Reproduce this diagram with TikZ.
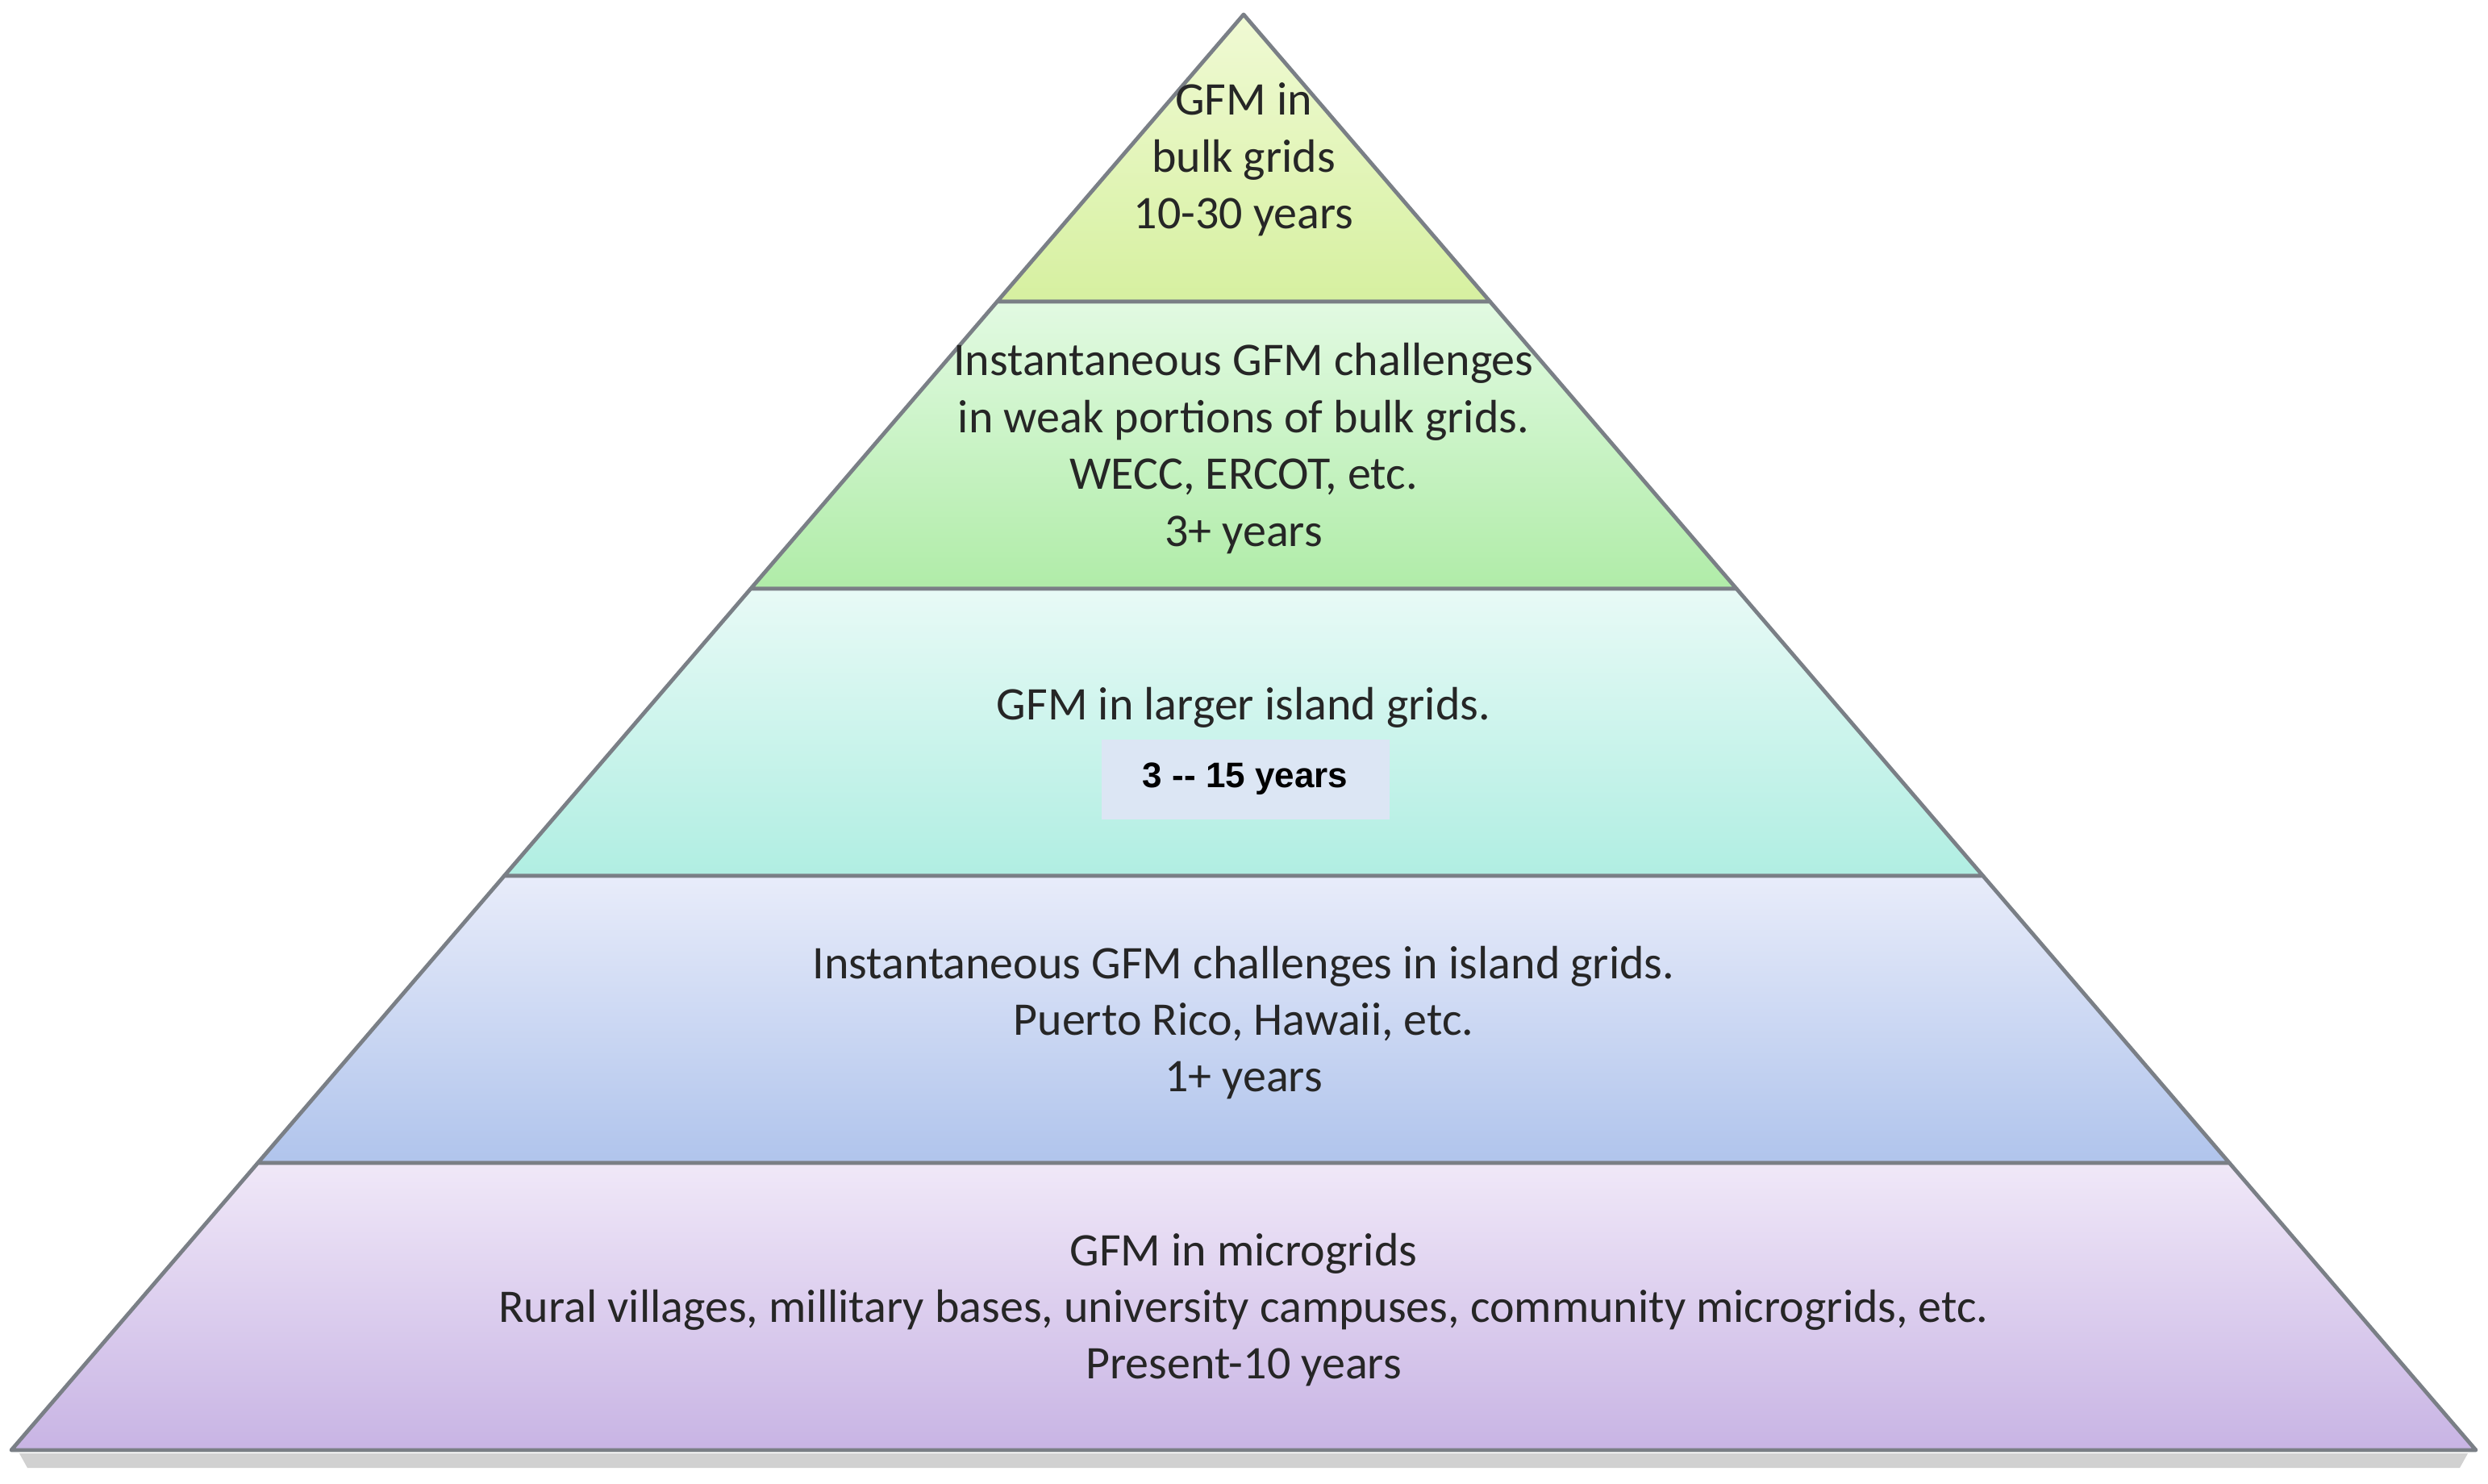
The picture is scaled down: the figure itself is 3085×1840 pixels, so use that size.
\documentclass[tikz,border=0pt]{standalone}
\usepackage{fontspec}
\setmainfont{Carlito}
\newfontfamily\arialf{Liberation Sans}
\usetikzlibrary{calc}
\definecolor{outl}{HTML}{7A7F86}
\begin{document}
\begin{tikzpicture}[x=0.25pt,y=-0.25pt,
  lay/.style={draw=outl,line width=1.2pt,line join=round},
  txt/.style={align=center,font=\fontsize{14.5}{17.6}\selectfont,text=black!85}]
\useasboundingbox (0,0) rectangle (3085,1840);
\coordinate (A) at (1542,18);
\coordinate (BL) at (14,1798);
\coordinate (BR) at (3070,1798);
\foreach \i/\t in {1/0.2,2/0.4,3/0.6,4/0.8}{
  \coordinate (L\i) at ($(A)!\t!(BL)$);
  \coordinate (R\i) at ($(A)!\t!(BR)$);
}
% shadow
\fill[black!30,opacity=0.6] (BL)++(10,4) -- ($(BR)+(-10,4)$) -- ($(BR)+(-20,22)$) -- ($(BL)+(20,22)$) -- cycle;
\shade[lay,top color={rgb,255:red,240;green,250;blue,212},bottom color={rgb,255:red,214;green,240;blue,160}] (A) -- (R1) -- (L1) -- cycle;
\shade[lay,top color={rgb,255:red,226;green,250;blue,226},bottom color={rgb,255:red,176;green,236;blue,168}] (L1) -- (R1) -- (R2) -- (L2) -- cycle;
\shade[lay,top color={rgb,255:red,232;green,250;blue,246},bottom color={rgb,255:red,176;green,238;blue,226}] (L2) -- (R2) -- (R3) -- (L3) -- cycle;
\shade[lay,top color={rgb,255:red,232;green,236;blue,250},bottom color={rgb,255:red,176;green,196;blue,236}] (L3) -- (R3) -- (R4) -- (L4) -- cycle;
\shade[lay,top color={rgb,255:red,240;green,232;blue,248},bottom color={rgb,255:red,200;green,180;blue,228}] (L4) -- (R4) -- (BR) -- (BL) -- cycle;
\node[txt] (t1) at (1542,198) {GFM in\\bulk grids\\10-30 years};
\node[txt] (t2) at (1542,556) {Instantaneous GFM challenges\\in weak portions of bulk grids.\\WECC, ERCOT, etc.\\3+ years};
\node[txt] (t3) at (1542,877) {GFM in larger island grids.};
\node[fill={rgb,255:red,220;green,230;blue,244},minimum width=357*0.25pt,minimum height=99*0.25pt,inner sep=0pt,font=\arialf\bfseries\fontsize{11}{13}\selectfont] (t3b) at (1544,966) {3 -- 15 years};
\node[txt] (t4) at (1542,1268) {Instantaneous GFM challenges in island grids.\\Puerto Rico, Hawaii, etc.\\1+ years};
\node[txt] (t5) at (1542,1624) {GFM in microgrids\\Rural villages, millitary bases, university campuses, community microgrids, etc.\\Present-10 years};
\end{tikzpicture}
\end{document}
